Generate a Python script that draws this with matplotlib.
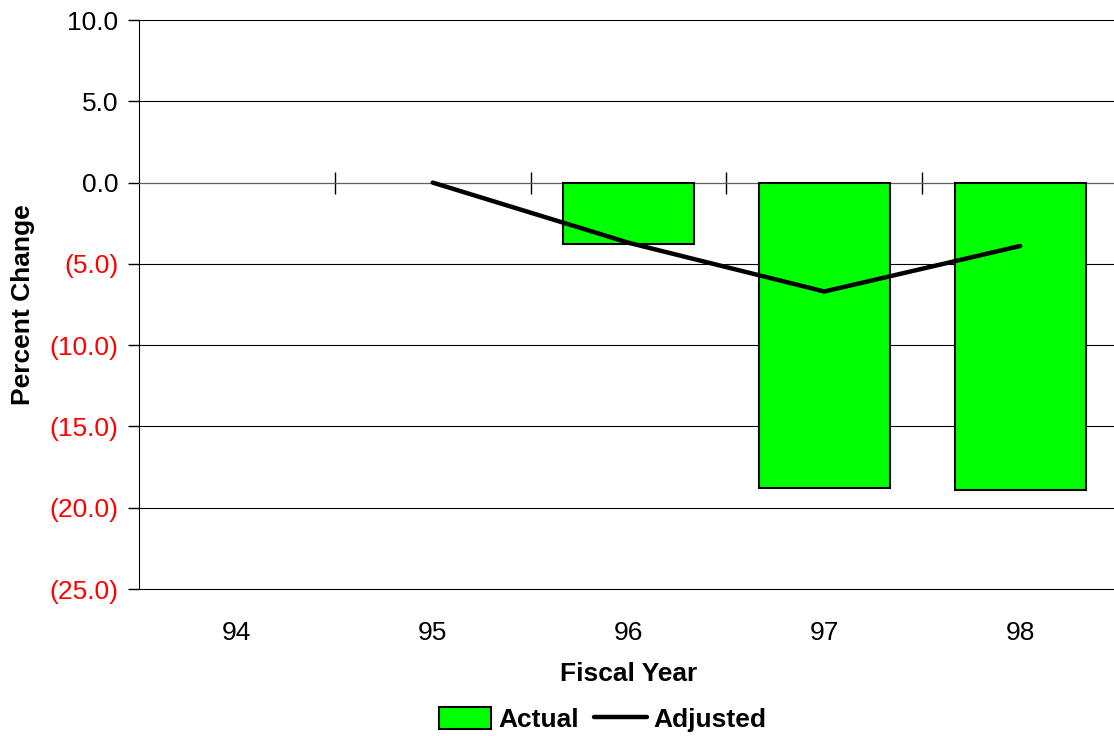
import matplotlib.pyplot as plt
from matplotlib.ticker import FuncFormatter

# ---- data ----
years = ["94", "95", "96", "97", "98"]
actual = [None, None, -3.8, -18.8, -18.9]
adjusted = [None, 0.0, -3.7, -6.7, -3.9]
y_ticks = [10, 5, 0, -5, -10, -15, -20, -25]

plt.rcParams["font.family"] = ["Liberation Sans", "DejaVu Sans"]

fig = plt.figure(figsize=(11.14, 7.36), dpi=100)
ax = fig.add_axes([0.1248, 0.1997, 0.8788, 0.7731])

x = list(range(len(years)))
bar_x = [i for i, v in zip(x, actual) if v is not None]
bar_v = [v for v in actual if v is not None]
bars = ax.bar(bar_x, bar_v, width=0.67, color="#00ff00", edgecolor="black",
              linewidth=1.5, label="Actual", zorder=3)

line_x = [i for i, v in zip(x, adjusted) if v is not None]
line_v = [v for v in adjusted if v is not None]
line, = ax.plot(line_x, line_v, color="black", linewidth=3.2,
                solid_capstyle="round", label="Adjusted", zorder=4)

# ---- y axis ----
ax.set_ylim(-25, 10)
ax.set_yticks(y_ticks)
ax.yaxis.set_major_formatter(
    FuncFormatter(lambda v, p: f"{v:.1f}" if v >= 0 else f"({abs(v):.1f})"))
ax.tick_params(axis="y", length=8, width=1, labelsize=19, pad=7)
for lbl, v in zip(ax.get_yticklabels(), y_ticks):
    lbl.set_color("red" if v < 0 else "black")
ax.grid(axis="y", color="black", linewidth=0.8, zorder=0)
for gl in ax.get_ygridlines():
    gl.set_clip_on(False)
ax.set_ylabel("Percent Change", fontsize=19, fontweight="bold", labelpad=10)

# ---- x axis (category axis crosses at zero) ----
ax.set_xlim(-0.5, 4.5)
ax.spines["bottom"].set_position(("data", 0))
ax.spines["bottom"].set_color("#606060")
ax.spines["top"].set_visible(False)
ax.spines["right"].set_visible(False)
ax.set_xticks([0.5, 1.5, 2.5, 3.5])
ax.set_xticklabels([])
ax.tick_params(axis="x", direction="inout", length=16, width=1)

sec = ax.secondary_xaxis(0)
sec.set_xticks(x)
sec.set_xticklabels(years)
sec.tick_params(length=0, labelsize=19, pad=23)
sec.spines["bottom"].set_visible(False)
sec.set_xlabel("Fiscal Year", fontsize=19, fontweight="bold", labelpad=12)

fig.legend([bars, line], ["Actual", "Adjusted"], loc="center",
           bbox_to_anchor=(0.541, 0.022), ncol=2, frameon=False,
           prop={"weight": "bold", "size": 19},
           handlelength=2.0, handleheight=0.9, handletextpad=0.25,
           columnspacing=0.6)

fig.savefig("out.png", dpi=100)
